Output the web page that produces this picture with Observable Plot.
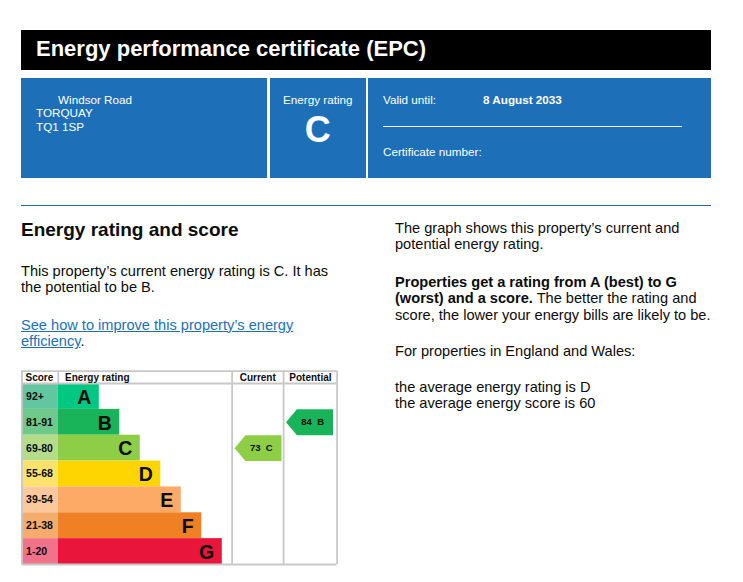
<!DOCTYPE html>
<html><head><meta charset="utf-8">
<script src="https://cdn.jsdelivr.net/npm/d3@7"></script>
<script src="https://cdn.jsdelivr.net/npm/@observablehq/plot@0.6"></script>
<style>
body{margin:0;background:#fff;font-family:"Liberation Sans",Arial,sans-serif;color:#0b0c0c;}
#page{position:relative;width:743px;height:582px;overflow:hidden;background:#fff;}
.abs{position:absolute;white-space:nowrap;}
.blue{position:absolute;background:#1d70b8;top:78px;height:100px;}
.w{color:#fff;font-size:11.7px;line-height:14px;}
.p{font-size:14.6px;line-height:16.8px;}
a{color:#1d70b8;text-decoration:underline;}
</style></head><body><div id="page">
<div class="abs" style="left:21px;top:30px;width:690px;height:40px;background:#000;"></div>
<div class="abs" style="left:36px;top:29px;line-height:40px;font-size:22px;font-weight:bold;color:#fff;">Energy performance certificate (EPC)</div>
<div class="blue" style="left:21px;width:246px;"></div>
<div class="blue" style="left:269.5px;width:96.5px;"></div>
<div class="blue" style="left:368px;width:343px;"></div>
<div class="abs w" style="left:58px;top:93px;">Windsor Road</div>
<div class="abs w" style="left:36px;top:106px;">TORQUAY</div>
<div class="abs w" style="left:36px;top:120px;">TQ1 1SP</div>
<div class="abs w" style="left:269.5px;width:96.5px;text-align:center;top:93px;">Energy rating</div>
<div class="abs" style="left:269.5px;width:96.5px;text-align:center;top:110px;line-height:40px;font-size:36px;font-weight:bold;color:#fff;">C</div>
<div class="abs w" style="left:383px;top:93px;">Valid until:</div>
<div class="abs w" style="left:483px;top:93px;font-weight:bold;">8 August 2033</div>
<div class="abs" style="left:383px;top:126px;width:299px;height:1px;background:#fff;"></div>
<div class="abs w" style="left:383px;top:145px;">Certificate number:</div>
<div class="abs" style="left:21px;top:204.5px;width:690px;height:1.5px;background:#1d70b8;"></div>
<div class="abs" style="left:21px;top:218px;line-height:24px;font-size:19px;font-weight:bold;">Energy rating and score</div>
<div class="abs p" style="left:21px;top:262.5px;">This property’s current energy rating is C. It has<br>the potential to be B.</div>
<div class="abs p" style="left:21px;top:316.5px;"><a>See how to improve this property’s energy<br>efficiency</a>.</div>
<div class="abs p" style="left:395px;top:219.5px;">The graph shows this property’s current and<br>potential energy rating.</div>
<div class="abs p" style="left:395px;top:273.5px;"><b>Properties get a rating from A (best) to G<br>(worst) and a score.</b> The better the rating and<br>score, the lower your energy bills are likely to be.</div>
<div class="abs p" style="left:395px;top:342.5px;">For properties in England and Wales:</div>
<div class="abs p" style="left:395px;top:378.5px;">the average energy rating is D<br>the average energy score is 60</div>
<div id="chart" class="abs" style="left:20px;top:370px;"></div>
</div>
<script>
// ---- data ----
const bands = ["A", "B", "C", "D", "E", "F", "G"];
const scoreRanges = ["92+", "81-91", "69-80", "55-68", "39-54", "21-38", "1-20"];
const bandColors = ["#00c781", "#19b459", "#8dce46", "#ffd500", "#fcaa65", "#ef8023", "#e9153b"];
const scoreCellColors = ["#62c6a0", "#6fc98a", "#b3dd88", "#ffe26b", "#fdc89c", "#f5ab6c", "#f2728a"];
const headerLabels = ["Score", "Energy rating", "Current", "Potential"];
const currentRating = {score: 73, band: "C"};
const potentialRating = {score: 84, band: "B"};

// ---- layout (table geometry in column units) ----
const L = {scoreCol: 1.77, currentCol: 10.25, potentialCol: 12.76, right: 15.37,
  barSteps: [2, 3, 4, 5, 6, 7, 8], headerTop: -0.48,
  headerX: [0.17, 2.1, 11.5, 14.07], headerAnchor: ["start", "start", "middle", "middle"]};

const rows = bands.map((b, i) => ({band: b, i, score: scoreRanges[i], color: bandColors[i], light: scoreCellColors[i], len: L.barSteps[i]}));
const arrows = [
  {id: "current", col: L.currentCol, ...currentRating},
  {id: "potential", col: L.potentialCol, ...potentialRating}
].map(a => ({...a, i: bands.indexOf(a.band), color: bandColors[bands.indexOf(a.band)]}));
const arrowPts = arrows.flatMap(a => [
  [0.12, 0.5], [0.65, 0], [2.41, 0], [2.41, 1], [0.65, 1], [0.12, 0.5]
].map(([dx, dy]) => ({id: a.id, color: a.color, x: a.col + dx, y: a.i + dy})));
const headers = headerLabels.map((t, k) => ({t, x: L.headerX[k], anchor: L.headerAnchor[k]}));

const grid = {stroke: "#c8c8c8", strokeWidth: 1.8};
const font = "Liberation Sans, Arial, sans-serif";
const headerStyle = {x: "x", y: L.headerTop / 2, text: "t", fontWeight: "bold", fontSize: 10, fill: "#0b0c0c"};
const chart = Plot.plot({
  width: 320, height: 196, margin: 0,
  x: {domain: [0, 15.4], range: [1.5, 317.2], axis: null},
  y: {domain: [L.headerTop, 7], range: [0.6, 194], axis: null},
  color: {type: "identity"},
  style: {fontFamily: font, background: "transparent"},
  marks: [
    Plot.rect(rows, {x1: 0, x2: L.scoreCol, y1: d => d.i, y2: d => d.i + 1, fill: "light"}),
    Plot.rect(rows, {x1: L.scoreCol, x2: d => L.scoreCol + d.len, y1: d => d.i, y2: d => d.i + 1, fill: "color"}),
    Plot.text(rows, {x: 0.2, y: d => d.i + 0.5, text: "score", textAnchor: "start", fontWeight: "bold", fontSize: 10.5, fill: "#0b0c0c"}),
    Plot.text(rows, {x: d => L.scoreCol + d.len, y: d => d.i + 0.5, text: "band", textAnchor: "end", dx: -8, dy: 1, fontWeight: "bold", fontSize: 19.5, fill: "#0b0c0c"}),
    Plot.line(arrowPts, {x: "x", y: "y", z: "id", fill: "color", stroke: "none", curve: "linear"}),
    Plot.text(arrows, {x: d => d.col + 1.42, y: d => d.i + 0.5, text: d => `${d.score}\u00a0\u00a0${d.band}`, fontWeight: "bold", fontSize: 9.5, fill: "#0b0c0c"}),
    Plot.ruleY([L.headerTop, 0, 7], {x1: 0, x2: L.right, ...grid}),
    Plot.ruleX([0, L.currentCol, L.potentialCol, L.right], {y1: L.headerTop, y2: 7, ...grid}),
    Plot.ruleX([L.scoreCol], {y1: L.headerTop, y2: 0, ...grid}),
    Plot.text(headers.filter(h => h.anchor === "start"), {...headerStyle, textAnchor: "start"}),
    Plot.text(headers.filter(h => h.anchor === "middle"), {...headerStyle, textAnchor: "middle"})
  ]
});
document.getElementById("chart").appendChild(chart);
</script>
</body></html>
